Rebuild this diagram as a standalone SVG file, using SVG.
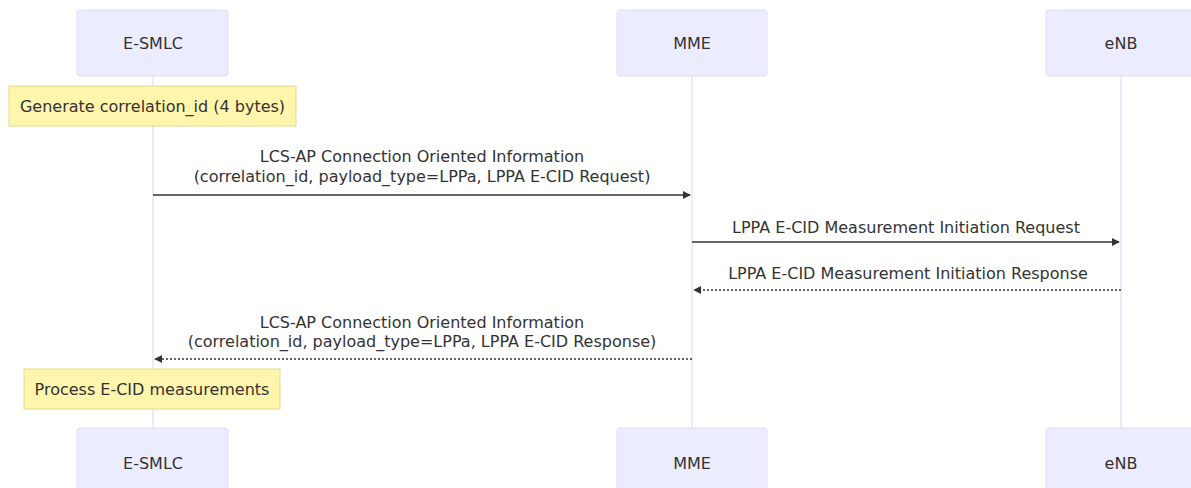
<svg xmlns="http://www.w3.org/2000/svg" width="1191" height="488" viewBox="0 0 1191 488">
<style>
.actor{fill:#ECECFF;stroke:#E2DCF7;stroke-width:1}
.atext{font-family:"DejaVu Sans",sans-serif;font-size:16px;fill:#333;text-anchor:middle;dominant-baseline:central}
.life{stroke:#DCD3F5;stroke-width:1}
.note{fill:#FFF5AD;stroke:#DDDD88;stroke-width:1}
.ntext{font-family:"DejaVu Sans",sans-serif;font-size:16px;fill:#333;text-anchor:middle;dominant-baseline:central}
.msg{stroke:#333;stroke-width:1.5;fill:none}
.dot{stroke-dasharray:2,2}
.mtext{font-family:"DejaVu Sans",sans-serif;font-size:16px;fill:#333;text-anchor:middle;dominant-baseline:central}
</style>
<defs>
<marker id="ah" viewBox="0 0 10 10" refX="9" refY="5" markerWidth="8" markerHeight="8" markerUnits="userSpaceOnUse" orient="auto">
<path d="M0,0 L10,5 L0,10 z" fill="#333"/>
</marker>
</defs>
<rect width="1191" height="488" fill="#fff"/>
<g id="lifelines">
<line class="life" x1="153" y1="76" x2="153" y2="428"/>
<line class="life" x1="692" y1="76" x2="692" y2="428"/>
<line class="life" x1="1121" y1="76" x2="1121" y2="428"/>
</g>
<g id="actor-esmlc-top"><rect class="actor" x="77" y="10" width="151" height="66" rx="3"/><text class="atext" x="153" y="43">E-SMLC</text></g>
<g id="actor-mme-top"><rect class="actor" x="617" y="10" width="150" height="66" rx="3"/><text class="atext" x="692" y="43">MME</text></g>
<g id="actor-enb-top"><rect class="actor" x="1046" y="10" width="150" height="66" rx="3"/><text class="atext" x="1121" y="43">eNB</text></g>
<g id="actor-esmlc-bottom"><rect class="actor" x="77" y="428" width="151" height="66" rx="3"/><text class="atext" x="153" y="463">E-SMLC</text></g>
<g id="actor-mme-bottom"><rect class="actor" x="617" y="428" width="150" height="66" rx="3"/><text class="atext" x="692" y="463">MME</text></g>
<g id="actor-enb-bottom"><rect class="actor" x="1046" y="428" width="150" height="66" rx="3"/><text class="atext" x="1121" y="463">eNB</text></g>
<g id="note-generate"><rect class="note" x="9" y="86" width="287" height="40"/><text class="ntext" x="152.5" y="106">Generate correlation_id (4 bytes)</text></g>
<g id="note-process"><rect class="note" x="24" y="369" width="256" height="40"/><text class="ntext" x="152" y="389">Process E-CID measurements</text></g>
<g id="connectors">
<line class="msg" x1="153" y1="195" x2="690" y2="195" marker-end="url(#ah)"/>
<text class="mtext" x="422" y="156">LCS-AP Connection Oriented Information</text>
<text class="mtext" x="422" y="176">(correlation_id, payload_type=LPPa, LPPA E-CID Request)</text>
<line class="msg" x1="692" y1="242" x2="1119" y2="242" marker-end="url(#ah)"/>
<text class="mtext" x="906" y="227">LPPA E-CID Measurement Initiation Request</text>
<line class="msg dot" x1="1121" y1="290" x2="694" y2="290" marker-end="url(#ah)"/>
<text class="mtext" x="908" y="273">LPPA E-CID Measurement Initiation Response</text>
<line class="msg dot" x1="692" y1="359" x2="155" y2="359" marker-end="url(#ah)"/>
<text class="mtext" x="422" y="322">LCS-AP Connection Oriented Information</text>
<text class="mtext" x="422" y="341">(correlation_id, payload_type=LPPa, LPPA E-CID Response)</text>
</g>
</svg>
